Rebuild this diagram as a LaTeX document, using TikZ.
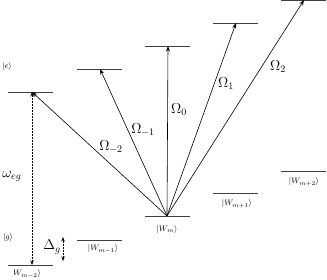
\documentclass[tikz,border=0pt]{standalone}
\usetikzlibrary{arrows.meta}
\begin{document}
\begin{tikzpicture}[x=1pt,y=1pt,
  level/.style={draw=black!75,line width=0.8pt},
  beam/.style={draw=black,line width=0.6pt,-{Stealth[length=5.5pt,width=4pt]}},
  dasharrow/.style={draw=black,line width=0.7pt,dash pattern=on 2pt off 1pt,{Stealth[length=4.5pt,width=3.5pt]}-{Stealth[length=4.5pt,width=3.5pt]}},
  slab/.style={font=\footnotesize,inner sep=0pt},
  olab/.style={font=\Large,inner sep=0pt}]
\useasboundingbox (0,0) rectangle (327,280);
% excited levels
\draw[level] (8,188) -- (53,188);
\draw[level] (77,211) -- (122,211);
\draw[level] (145,234) -- (190,234);
\draw[level] (213,257) -- (258,257);
\draw[level] (281,279.5) -- (326,279.5);
% ground levels
\draw[level] (8,15) -- (53,15);
\draw[level] (77,40) -- (122,40);
\draw[level] (145,64) -- (190,64);
\draw[level] (213,87) -- (258,87);
\draw[level] (281,109) -- (326,109);
% coordinates
\coordinate (wm) at (167,64);
\coordinate (em2) at (32,188);
\coordinate (em1) at (100,211);
\coordinate (e0) at (168,234);
\coordinate (e1) at (236,257);
\coordinate (e2) at (304,280);
\coordinate (gm2) at (32,15);
\coordinate (dtop) at (63,43);
\coordinate (dbot) at (63,19);
% beams
\draw[beam] (wm) -- (em2);
\draw[beam] (wm) -- (em1);
\draw[beam] (wm) -- (e0);
\draw[beam] (wm) -- (e1);
\draw[beam] (wm) -- (e2);
\draw[dasharrow] (gm2) -- (em2);
\draw[dasharrow] (dbot) -- (dtop);
% labels
\node[olab] (lm2) at (111,133) {$\Omega_{-2}$};
\node[olab] (lm1) at (143,150) {$\Omega_{-1}$};
\node[olab] (l0) at (179,170) {$\Omega_{0}$};
\node[olab] (l1) at (226,196) {$\Omega_{1}$};
\node[olab] (l2) at (278,213) {$\Omega_{2}$};
\node[font=\Large,inner sep=0pt] (weg) at (12,104) {$\omega_{eg}$};
\node[olab] (dg) at (52,33) {$\Delta_g$};
\node[slab] (ke) at (7,213) {$|e\rangle$};
\node[slab] (kg) at (8,42) {$|g\rangle$};
\node[slab] (w0) at (27,6) {$W_{m-2}\rangle$};
\node[slab] (w1) at (103,31) {$|W_{m-1}\rangle$};
\node[slab] (w2) at (167,50) {$|W_{m}\rangle$};
\node[slab] (w3) at (237,76) {$|W_{m+1}\rangle$};
\node[slab] (w4) at (304,98) {$|W_{m+2}\rangle$};
\end{tikzpicture}
\end{document}
